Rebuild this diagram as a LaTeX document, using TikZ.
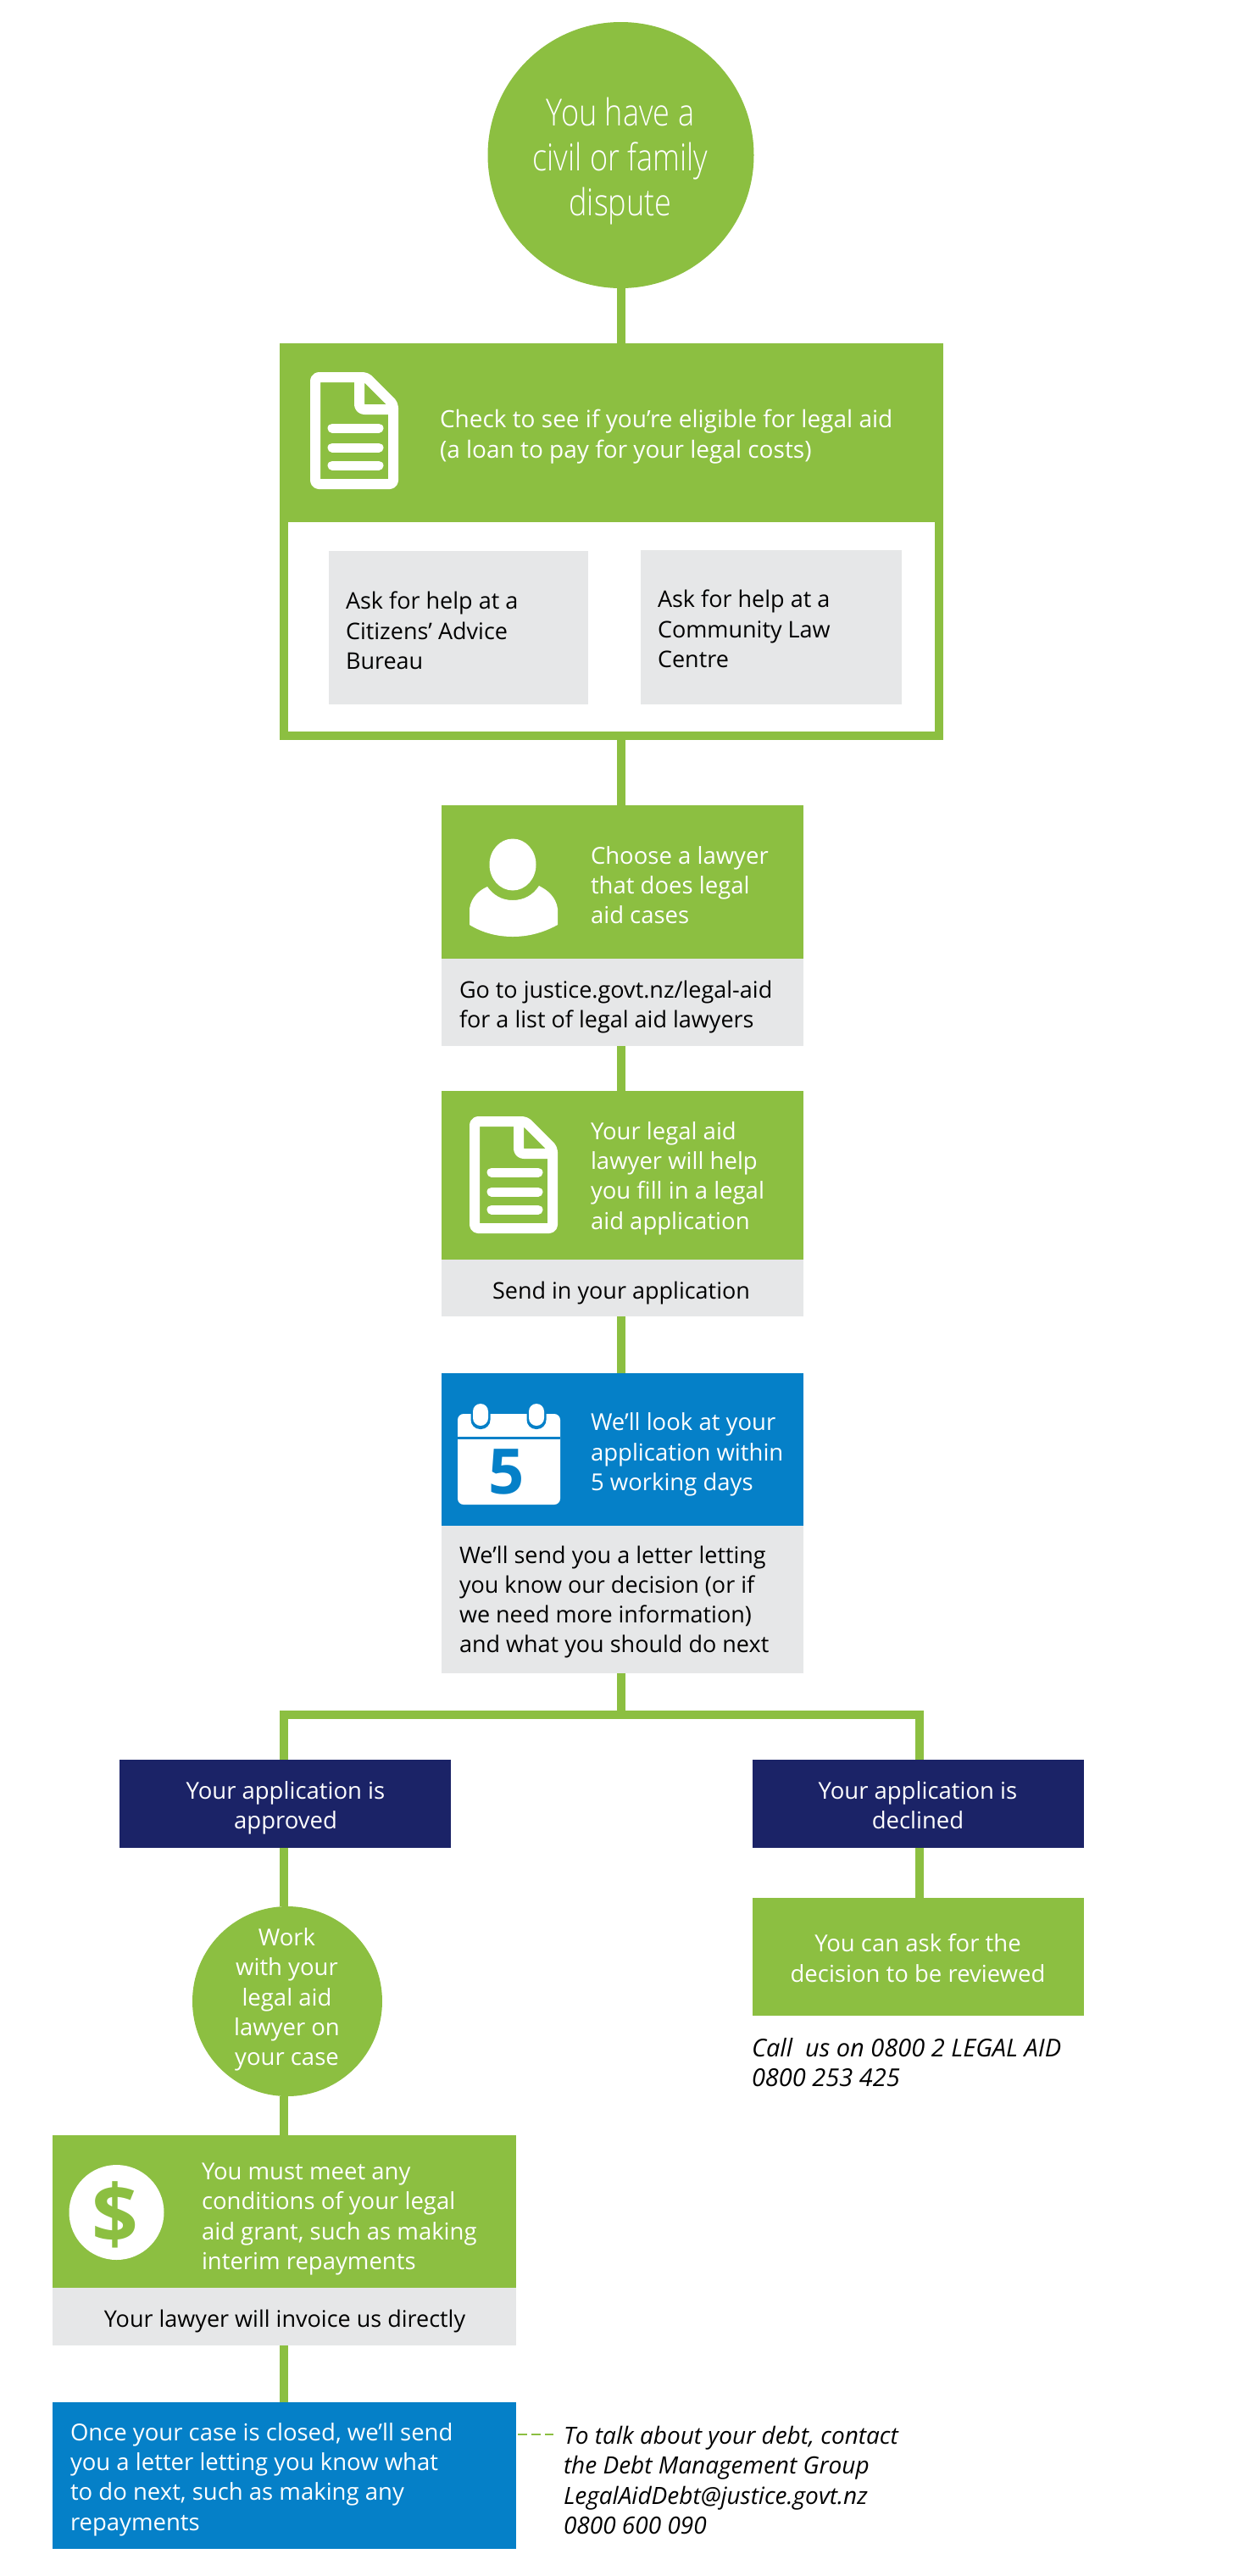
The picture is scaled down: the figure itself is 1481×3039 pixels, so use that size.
\documentclass[tikz,border=0pt]{standalone}
\usepackage{fontspec}
\setmainfont{Open Sans}
\newfontfamily\thinf[FakeStretch=0.82]{Open Sans Light}
\definecolor{lgreen}{HTML}{8CBF41}
\definecolor{lgrey}{HTML}{E6E7E8}
\definecolor{lblue}{HTML}{0580C8}
\definecolor{lnavy}{HTML}{1B2367}
\newcommand{\rbox}[6]{%
  \pgfmathsetmacro{\rw}{#4-#2}\pgfmathsetmacro{\rh}{#5-#3}%
  \pgfmathsetmacro{\rx}{(#4+#2)/2}\pgfmathsetmacro{\ry}{(#5+#3)/2}%
  \node[draw=none,fill=#6,inner sep=0pt,outer sep=0pt,minimum width=\rw pt,minimum height=\rh pt] (#1) at (\rx,\ry) {};}
\tikzset{
  x=1pt,y=-1pt,
  conn/.style={draw=lgreen,line width=10pt},
  txt/.style={inner sep=0pt,outer sep=0pt,align=left,anchor=west,font=\fontsize{27.5}{35.3}\selectfont},
  ctxt/.style={inner sep=0pt,outer sep=0pt,align=center,anchor=center,font=\fontsize{27.5}{35.3}\selectfont},
  gry/.style={font=\fontsize{27}{35.3}\selectfont},
  wh/.style={text=white},
  docicon/.pic={
    \draw[white,line width=12pt,line join=round,rounded corners=4pt]
      (66,6) -- (98,38) -- (98,132) -- (6,132) -- (6,6) -- cycle;
    \draw[white,line width=12pt,line join=round,rounded corners=6pt] (58,6) -- (58,44) -- (98,44);
    \foreach \ly in {66,89,110}
      \draw[white,line width=11pt,line cap=round] (26,\ly) -- (81,\ly);
  }
}
\begin{document}
\begin{tikzpicture}
\useasboundingbox (0,0) rectangle (1481,3039);
% boxes
\node[circle,fill=lgreen,inner sep=0pt,outer sep=0pt,minimum size=314pt] (start) at (732.5,183) {};
\rbox{big}{330}{405}{1113}{873}{lgreen}
\rbox{bigin}{340}{616}{1103}{863}{white}
\rbox{cab}{388}{650}{694}{831}{lgrey}
\rbox{clc}{756}{649}{1064}{831}{lgrey}
\rbox{law}{521}{950}{948}{1131}{lgreen}
\rbox{lawg}{521}{1131}{948}{1234}{lgrey}
\rbox{app}{521}{1287}{948}{1486}{lgreen}
\rbox{appg}{521}{1486}{948}{1553}{lgrey}
\rbox{look}{521}{1620}{948}{1800}{lblue}
\rbox{lookg}{521}{1800}{948}{1974}{lgrey}
\rbox{appr}{141}{2076}{532}{2180}{lnavy}
\rbox{decl}{888}{2076}{1279}{2180}{lnavy}
\rbox{rev}{888}{2239}{1279}{2378}{lgreen}
\node[circle,fill=lgreen,inner sep=0pt,outer sep=0pt,minimum size=224pt] (work) at (339,2361) {};
\rbox{cond}{62}{2519}{609}{2699}{lgreen}
\rbox{condg}{62}{2699}{609}{2767}{lgrey}
\rbox{closed}{62}{2834}{609}{3007}{lblue}
% connectors
\coordinate (mid) at (732.5,2022.5);
\coordinate (ml) at (335,2022.5);
\coordinate (mr) at (1085,2022.5);
\draw[conn] (start.south) -- (start.south |- big.north);
\draw[conn] (big.south -| start.south) -- (law.north -| start.south);
\draw[conn] (lawg.south -| start.south) -- (app.north -| start.south);
\draw[conn] (appg.south -| start.south) -- (look.north -| start.south);
\draw[conn] (lookg.south -| start.south) -- (mid);
\draw[conn] (appr.north -| ml) -- (ml) -- (mr) -- (decl.north -| mr);
\draw[conn] (appr.south -| ml) -- (work.north -| ml);
\draw[conn] (work.south -| ml) -- (cond.north -| ml);
\draw[conn] (condg.south -| ml) -- (closed.north -| ml);
\draw[conn] (decl.south -| mr) -- (rev.north -| mr);
\coordinate (dashend) at (653,2872);
\draw[draw=lgreen,line width=1.6pt,dash pattern=on 11pt off 5pt] (dashend -| closed.east) ++(2,0) -- (dashend);
% icons
\path (366,439) pic {docicon};
\path (554,1317) pic {docicon};
% person
\fill[white] (605,1020) ellipse [x radius=27.5,y radius=30.5];
\fill[white] (554,1072) .. controls (556,1058) and (566,1050) .. (575,1046)
  .. controls (582,1056) and (592,1062) .. (605,1062)
  .. controls (618,1062) and (629,1056) .. (636,1045)
  .. controls (646,1050) and (656,1058) .. (658,1072) -- (658,1091)
  .. controls (640,1101) and (622,1105) .. (605,1105)
  .. controls (588,1105) and (570,1101) .. (554,1091) -- cycle;
% calendar
\fill[white,rounded corners=7pt] (540,1668) rectangle (661,1775);
\fill[lblue] (540,1695) rectangle (661,1698);
\foreach \cx in {567,633}{
  \fill[lblue,rounded corners=11pt] (\cx-11.5,1654) rectangle (\cx+11.5,1686);
  \fill[white,rounded corners=9pt] (\cx-9,1656) rectangle (\cx+9,1682);
}
\node[inner sep=0pt,text=lblue,font=\fontsize{74}{74}\bfseries\selectfont] (five) at (598,1736.5) {5};
% dollar
\node[circle,fill=white,inner sep=0pt,minimum size=112pt] (dollarc) at (137.5,2610) {};
\node[inner sep=0pt,text=lgreen,font=\fontsize{96}{96}\bfseries\selectfont] (dollar) at (136,2613) {\$};
% texts
\node[ctxt,wh,font=\thinf\fontsize{44}{53}\selectfont] (t0) at (732,190) {You have a\\civil or family\\dispute};
\node[txt,wh,font=\fontsize{28}{35.3}\selectfont] (t1) at (519,515) {Check to see if you’re eligible for legal aid\\(a loan to pay for your legal costs)};
\node[txt,gry] (t2) at (408,744) {Ask for help at a\\Citizens’ Advice\\Bureau};
\node[txt,gry] (t3) at (776,742) {Ask for help at a\\Community Law\\Centre};
\node[txt,wh] (t4) at (697,1044) {Choose a lawyer\\that does legal\\aid cases};
\node[txt,gry] (t5) at (542,1188) {Go to justice.govt.nz/legal-aid\\for a list of legal aid lawyers};
\node[txt,wh] (t6) at (697,1390) {Your legal aid\\lawyer will help\\you fill in a legal\\aid application};
\node[ctxt,gry] (t7) at (733,1525) {Send in your application};
\node[txt,wh] (t8) at (697,1716) {We’ll look at your\\application within\\5 working days};
\node[txt,gry] (t9) at (542,1890) {We’ll send you a letter letting\\you know our decision (or if\\we need more information)\\and what you should do next};
\node[ctxt,wh] (t10) at (337,2133) {Your application is\\approved};
\node[ctxt,wh] (t11) at (1083,2130) {Your application is\\declined};
\node[ctxt,wh] (t12) at (1083,2310) {You can ask for the\\decision to be reviewed};
\node[txt,font=\itshape\fontsize{29}{35.3}\selectfont] (t13) at (887,2433) {Call \ us on 0800 2 LEGAL AID\\0800 253 425};
\node[ctxt,wh] (t14) at (338.5,2359) {Work\\with your\\legal aid\\lawyer on\\your case};
\node[txt,wh] (t15) at (238,2618) {You must meet any\\conditions of your legal\\aid grant, such as making\\interim repayments};
\node[ctxt,gry] (t16) at (336,2738) {Your lawyer will invoice us directly};
\node[txt,wh] (t17) at (83,2925) {Once your case is closed, we’ll send\\you a letter letting you know what\\to do next, such as making any\\repayments};
\node[txt,font=\itshape\fontsize{28}{35.3}\selectfont] (t18) at (665,2926) {To talk about your debt, contact\\the Debt Management Group\\LegalAidDebt@justice.govt.nz\\0800 600 090};
\end{tikzpicture}
\end{document}
